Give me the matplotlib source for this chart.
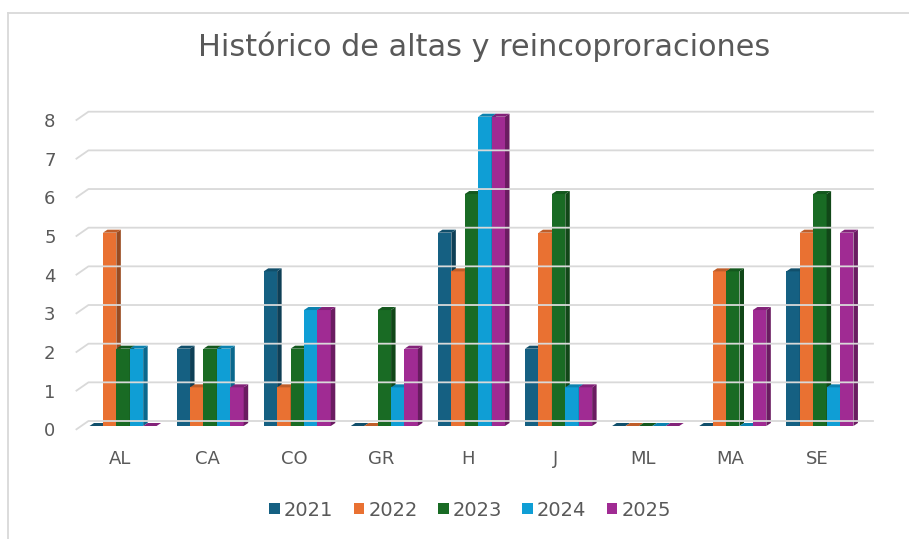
import matplotlib
matplotlib.use("Agg")
import matplotlib.pyplot as plt
import numpy as np
from matplotlib.patches import Polygon, Patch
from matplotlib.transforms import ScaledTranslation, IdentityTransform
from matplotlib.lines import Line2D
import matplotlib.colors as mcolors

categories = ["AL", "CA", "CO", "GR", "H", "J", "ML", "MA", "SE"]
series_names = ["2021", "2022", "2023", "2024", "2025"]
v2021 = [0, 2, 4, 0, 5, 2, 0, 0, 4]
v2022 = [5, 1, 1, 0, 4, 5, 0, 4, 5]
v2023 = [2, 2, 2, 3, 6, 6, 0, 4, 6]
v2024 = [2, 2, 3, 1, 8, 1, 0, 0, 1]
v2025 = [0, 1, 3, 2, 8, 1, 0, 3, 5]
series = [v2021, v2022, v2023, v2024, v2025]
colors = ["#156082", "#E97132", "#196B24", "#0F9ED5", "#A02B93"]
yticks = list(range(0, 9))

W, H = 909, 539
fig = plt.figure(figsize=(W / 100, H / 100), dpi=100)
fig.patch.set_facecolor("white")

# axes: front plane of bars
x_left_px, x_right_px = 76.45, 860.4
y0_px, y8_px = 426.0, 116.7
ax = fig.add_axes([x_left_px / W, 1 - y0_px / H,
                   (x_right_px - x_left_px) / W, (y0_px - y8_px) / H])
ax.set_xlim(-0.5, len(categories) - 0.5)
ax.set_ylim(0, 8)
for s in ax.spines.values():
    s.set_visible(False)
ax.set_facecolor("none")

text_color = "#595959"
ax.set_yticks(yticks)
ax.set_yticklabels([str(t) for t in yticks])
ax.set_xticks(range(len(categories)))
ax.set_xticklabels(categories)
ax.tick_params(axis="y", length=0, pad=15, labelsize=13, labelcolor=text_color)
ax.tick_params(axis="x", length=0, pad=17, labelsize=13, labelcolor=text_color)
for lab in ax.get_yticklabels():
    lab.set_transform(lab.get_transform() + ScaledTranslation(0, -3.3 / 100, fig.dpi_scale_trans))

fig.canvas.draw()
T = ax.transData

# gridlines (back wall with slanted floor edge)
for v in yticks:
    (px, py) = T.transform((-0.5, v))
    (qx, qy) = T.transform((len(categories) - 0.5, v))
    xs = [px, px + 12, qx + 12.6]
    ys = [py - 3.3, py + 5, py + 5]
    fig.add_artist(Line2D(xs, ys, transform=IdentityTransform(), color="#D9D9D9",
                          lw=1.3, zorder=0.5))

# bars
bw = 0.154
gshift = 0.035
dx, dy = 4.5, 3.0


def darker(c, f):
    r, g, b = mcolors.to_rgb(c)
    return (r * f, g * f, b * f)


for j, (vals, col) in enumerate(zip(series, colors)):
    xs = np.arange(len(categories)) + gshift + (j - 2) * bw
    z = 2 + j * 0.1
    ax.bar(xs, vals, width=bw, color=col, zorder=z, linewidth=0)
    for x, v in zip(xs, vals):
        (lx, by) = T.transform((x - bw / 2, 0))
        (rx, ty) = T.transform((x + bw / 2, v))
        side = Polygon([(rx, by), (rx, ty), (rx + dx, ty + dy), (rx + dx, by + dy)],
                       closed=True, transform=IdentityTransform(),
                       facecolor=darker(col, 0.66), edgecolor="none", zorder=z + 0.01)
        top = Polygon([(lx, ty), (rx, ty), (rx + dx, ty + dy), (lx + dx, ty + dy)],
                      closed=True, transform=IdentityTransform(),
                      facecolor=darker(col, 0.82), edgecolor="none", zorder=z + 0.02)
        ax.add_artist(side)
        ax.add_artist(top)
        side.set_clip_on(False)
        top.set_clip_on(False)

# title
fig.text(484 / W, 1 - 47 / H, "Histórico de altas y reincoproraciones",
         ha="center", va="center", fontsize=21.8, color=text_color)

# legend
handles = [Patch(facecolor=c, edgecolor="none") for c in colors]
fig.legend(handles, series_names, loc="center", bbox_to_anchor=(470 / W, 1 - 510 / H),
           ncol=5, frameon=False, fontsize=14, labelcolor=text_color,
           handlelength=0.55, handleheight=0.55, handletextpad=0.2, columnspacing=1.05)

# outer chart border (top and left)
fig.add_artist(Line2D([8, W], [H - 13, H - 13], transform=IdentityTransform(),
                      color="#D9D9D9", lw=1.3))
fig.add_artist(Line2D([8, 8], [0, H - 13], transform=IdentityTransform(),
                      color="#D9D9D9", lw=1.3))

fig.savefig("out.png", dpi=100, facecolor="white")
